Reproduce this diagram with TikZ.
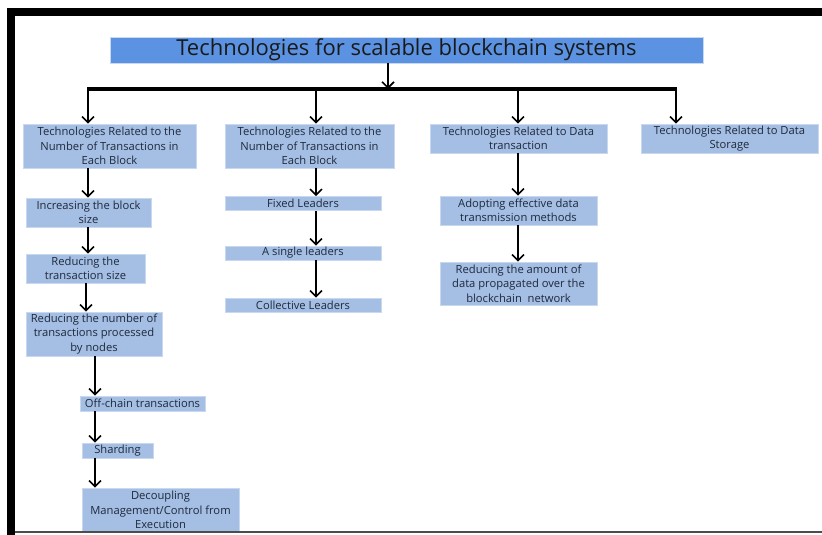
\documentclass[tikz,border=0pt]{standalone}
\usepackage{fontspec}
\setmainfont{Open Sans}
\usetikzlibrary{arrows.meta}
\definecolor{titlefill}{HTML}{5B93E2}
\definecolor{boxfill}{HTML}{A4BEE4}
\definecolor{boxline}{HTML}{C8D8EE}
\definecolor{txt}{HTML}{1F2A3C}
\tikzset{
  box/.style={rectangle, fill=boxfill, draw=boxline, line width=0.6pt, inner sep=0pt, align=center,
    font=\fontsize{11.2}{14.3}\selectfont, text=txt},
  titlebox/.style={rectangle, fill=titlefill, draw=boxline, line width=0.6pt, inner sep=0pt, align=center,
    font=\fontsize{22}{24}\selectfont, text=black!90},
  arr/.style={draw=black, line width=1.8pt, -{Straight Barb[length=6pt,width=12pt,line width=1.6pt]}},
}
\begin{document}
\begin{tikzpicture}[x=1pt,y=-1pt]
\useasboundingbox (0,0) rectangle (822,535);
\fill[white] (0,0) rectangle (822,535);
% frame
\fill[black] (7,8) rectangle (822,16);
\fill[black] (7,8) rectangle (15,535);
\draw[black!70, line width=1.5pt] (15,532) -- (822,532);

% title
\node[titlebox, minimum width=593pt, minimum height=26pt] (title) at (406.5,50) {Technologies for scalable blockchain systems};

% level 1
\node[box, minimum width=173pt, minimum height=44pt] (B1) at (109.5,146) {Technologies Related to the\\Number of Transactions in\\Each Block};
\node[box, minimum width=169pt, minimum height=44pt] (B2) at (309.5,146) {Technologies Related to the\\Number of Transactions in\\Each Block};
\node[box, minimum width=177pt, minimum height=29pt] (B3) at (518.5,138.5) {Technologies Related to Data\\transaction};
\node[box, minimum width=177pt, minimum height=29pt] (B4) at (729.5,138.5) {Technologies Related to Data\\Storage};

% column 1
\node[box, minimum width=125pt, minimum height=29pt] (C1) at (88.5,212.5) {Increasing the block\\size};
\node[box, minimum width=119pt, minimum height=29pt] (C2) at (85.5,268.5) {Reducing the\\transaction size};
\node[box, minimum width=136pt, minimum height=44pt] (C3) at (94,334) {Reducing the number of\\transactions processed\\by nodes};
\node[box, minimum width=125pt, minimum height=15pt] (C4) at (142.5,403.5) {Off-chain transactions};
\node[box, minimum width=71pt, minimum height=15pt] (C5) at (117.5,450.5) {Sharding};
\node[box, minimum width=157pt, minimum height=44pt] (C6) at (160.5,510) {Decoupling\\Management/Control from\\Execution};

% column 2
\node[box, minimum width=156pt, minimum height=14pt] (D1) at (303,203.5) {Fixed Leaders};
\node[box, minimum width=156pt, minimum height=14pt] (D2) at (303,253) {A single leaders};
\node[box, minimum width=156pt, minimum height=14pt] (D3) at (303,305) {Collective Leaders};

% column 3
\node[box, minimum width=157pt, minimum height=29pt] (E1) at (518.5,210.5) {Adopting effective data\\transmission methods};
\node[box, minimum width=157pt, minimum height=43pt] (E2) at (518.5,283.5) {Reducing the amount of\\data propagated over the\\blockchain~ network};

% guide coordinates
\coordinate (bar) at (0,89);
\coordinate (xa) at (88,0);
\coordinate (xb) at (86,0);
\coordinate (xc) at (95,0);
\coordinate (xd) at (316,0);
\coordinate (xe) at (518,0);
\coordinate (xf) at (676,0);
\coordinate (xt) at (388,0);

% connectors
\draw[arr] (title.south -| xt) -- (bar -| xt);
\draw[line width=3.5pt] (bar -| xa) ++(-1,0) -- ([xshift=1pt]bar -| xf);
\draw[arr] (bar -| xa) -- (B1.north -| xa);
\draw[arr] (bar -| xd) -- (B2.north -| xd);
\draw[arr] (bar -| xe) -- (B3.north -| xe);
\draw[arr] (bar -| xf) -- (B4.north -| xf);

\draw[arr] (B1.south -| xa) -- (C1.north -| xa);
\draw[arr] (C1.south -| xa) -- (C2.north -| xa);
\draw[arr] (C2.south -| xb) -- (C3.north -| xb);
\draw[arr] (C3.south -| xc) -- (C4.north -| xc);
\draw[arr] (C4.south -| xc) -- (C5.north -| xc);
\draw[arr] (C5.south -| xc) -- (C6.north -| xc);

\draw[arr] (B2.south -| xd) -- (D1.north -| xd);
\draw[arr] (D1.south -| xd) -- (D2.north -| xd);
\draw[arr] (D2.south -| xd) -- (D3.north -| xd);

\draw[arr] (B3.south -| xe) -- (E1.north -| xe);
\draw[arr] (E1.south -| xe) -- (E2.north -| xe);

% redraw bottom line over C6
\draw[black!70, line width=1.5pt] (15,532) -- (822,532);
\fill[black] (7,8) rectangle (15,535);
\end{tikzpicture}
\end{document}
